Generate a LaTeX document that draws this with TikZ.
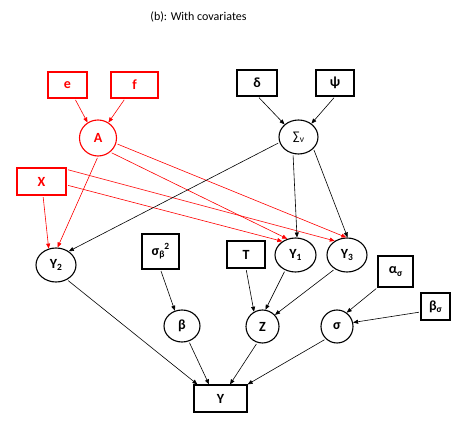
\documentclass[tikz,border=0pt]{standalone}
\usepackage{fontspec}
\setmainfont{Carlito}
\usetikzlibrary{arrows.meta,shapes.geometric}
\newcommand{\lowsub}[1]{\raisebox{-0.35ex}{\fontsize{9.5}{9.5}\selectfont #1}}
\newcommand{\highsup}[1]{\raisebox{0.85ex}{\fontsize{9.5}{9.5}\selectfont #1}}
\begin{document}
\begin{tikzpicture}[x=1pt,y=-1pt,
  every node/.style={font=\fontsize{14}{14}\selectfont\bfseries, inner sep=0pt},
  bbox/.style={draw=black, line width=1.2pt, rectangle},
  rbox/.style={draw=red, text=red, line width=1.2pt, rectangle},
  ell/.style={draw=black, line width=1.1pt, ellipse},
  rell/.style={draw=red, text=red, line width=1.1pt, ellipse},
  arr/.style={-{Triangle[length=5pt,width=4pt]}, line width=0.6pt, black, shorten <=1.5pt},
  rarr/.style={arr, red},
  sz/.style 2 args={minimum width=#1pt, minimum height=#2pt}]
\useasboundingbox (0,0) rectangle (466,435);
\node[font=\fontsize{12}{12}\selectfont] (title) at (198.5,17) {(b): With covariates};
% boxes
\node[rbox, sz={39}{26}] (e) at (67.5,85) {e};
\node[rbox, sz={47}{26}] (f) at (134.5,85) {f};
\node[rbox, sz={49}{27}] (X) at (41.5,181.5) {X};
\node[bbox, sz={40}{26}] (delta) at (257,83) {δ};
\node[bbox, sz={38}{26}] (psi) at (335,83) {ψ};
\node[bbox, sz={37}{35}] (sb) at (160.5,251.5) {σ\lowsub{β}\highsup{2}};
\node[bbox, sz={38}{27}] (T) at (246,254.5) {T};
\node[bbox, sz={35}{31}] (as) at (395.5,271.5) {α\lowsub{σ}};
\node[bbox, sz={29}{27}] (bs) at (435.5,306.5) {β\lowsub{σ}};
\node[bbox, sz={53}{27}] (Y) at (220.5,398.5) {Y};
% ellipses
\node[rell, sz={37}{36}] (A) at (98,138) {A};
\node[ell, sz={39}{34}, font=\fontsize{12.5}{12.5}\selectfont] (Sig) at (298.5,137) {∑\lowsub{ν}};
\node[ell, sz={41}{34}] (U1) at (295.5,255) {Υ\lowsub{1}};
\node[ell, sz={40}{34}] (U3) at (347,255) {Υ\lowsub{3}};
\node[ell, sz={40}{34}] (U2) at (56,265) {Υ\lowsub{2}};
\node[ell, sz={36}{32}] (beta) at (182,326) {β};
\node[ell, sz={33}{33}] (Z) at (262.5,326.5) {Z};
\node[ell, sz={32}{33}] (sigma) at (337,326.5) {σ};
% red connectors
\draw[rarr] (e) -- (A.124);
\draw[rarr] (f) -- (A.56);
\draw[rarr] (A.-90) -- (U2.85);
\draw[rarr] (A.-49) -- (U1.117);
\draw[rarr] (A.-17) -- (U3.92);
\draw[rarr] (X) -- (U2.114);
\draw[rarr] ([yshift=-3.5pt]X.east) -- (U1.134);
\draw[rarr] ([yshift=-2pt]X.north east) -- (U3.131);
% black connectors
\draw[arr] ([xshift=1pt]delta.south) -- (Sig.138);
\draw[arr] (psi.south) -- (Sig.46);
\draw[arr] (Sig.196) -- (U2.47);
\draw[arr] (Sig.252) -- (U1.85);
\draw[arr] (Sig.-38) -- (U3.88);
\draw[arr] (sb.south) -- (beta.115);
\draw[arr] (T.south) -- (Z.120);
\draw[arr] (U1.236) -- (Z.80);
\draw[arr] (U3.229) -- (Z.43);
\draw[arr] (as.south west) -- (sigma.55);
\draw[arr] ([yshift=-5.5pt]bs.west) -- (sigma.14);
\draw[arr] (U2.-53) -- ([xshift=4pt]Y.north west);
\draw[arr] (beta.-66) -- ([xshift=-11.5pt]Y.north);
\draw[arr] (Z.252) -- ([xshift=9.5pt]Y.north);
\draw[arr] (sigma.228) -- (Y.north east);
\end{tikzpicture}
\end{document}
